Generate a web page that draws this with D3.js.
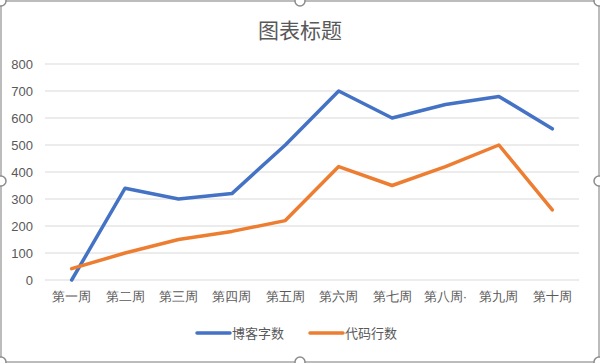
<!DOCTYPE html>
<html>
<head>
<meta charset="utf-8">
<script src="https://cdn.jsdelivr.net/npm/d3@7"></script>
<style>
  body { margin: 0; background: #fff; }
  svg { display: block; font-family: "Liberation Sans", "Noto Sans CJK SC", sans-serif; }
  .axis path, .axis line { display: none; }
  .axis text { fill: #595959; font-size: 13px; }
  .grid line { stroke: #d9d9d9; stroke-width: 1; }
</style>
</head>
<body>
<svg id="chart"></svg>
<script>
var weeks = ['第一周', '第二周', '第三周', '第四周', '第五周', '第六周', '第七周', '第八周·', '第九周', '第十周'];
var blogWords = [0, 340, 300, 320, 500, 700, 600, 650, 680, 560];
var codeLines = [42, 100, 150, 180, 220, 420, 350, 420, 500, 260];
var yTicks = [0, 100, 200, 300, 400, 500, 600, 700, 800];
var seriesNames = ['博客字数', '代码行数'];
var colors = ['#4472C4', '#ED7D31'];

var width = 600, height = 363;
var margin = {top: 64, right: 21, bottom: 83, left: 45};
var innerWidth = width - margin.left - margin.right;
var innerHeight = height - margin.top - margin.bottom;

var svg = d3.select("#chart")
    .attr("width", width)
    .attr("height", height);

// chart frame (selected chart look)
svg.append("rect")
    .attr("x", 1).attr("y", 1)
    .attr("width", width - 2).attr("height", height - 2)
    .attr("fill", "#fff")
    .attr("stroke", "#a6a6a6")
    .attr("stroke-width", 1.5);

svg.append("text")
    .attr("x", width / 2)
    .attr("y", 38)
    .attr("text-anchor", "middle")
    .style("font-family", "'Noto Sans CJK SC', sans-serif")
    .style("font-size", "21px")
    .style("fill", "#595959")
    .text("图表标题");

var g = svg.append("g")
    .attr("transform", "translate(" + margin.left + "," + margin.top + ")");

var xScale = d3.scaleBand()
    .domain(weeks)
    .range([0, innerWidth]);

var yScale = d3.scaleLinear()
    .domain([0, 800])
    .range([innerHeight, 0]);

g.append("g")
    .attr("class", "grid")
    .selectAll("line")
    .data(yTicks).enter()
    .append("line")
      .attr("x1", 0)
      .attr("x2", innerWidth)
      .attr("y1", function(d) { return yScale(d); })
      .attr("y2", function(d) { return yScale(d); });

g.append("g")
    .attr("class", "axis axis-y")
    .attr("transform", "translate(-12,0)")
    .call(d3.axisLeft(yScale).tickValues(yTicks).tickSize(0).tickPadding(0));

g.append("g")
    .attr("class", "axis axis-x")
    .attr("transform", "translate(0," + innerHeight + ")")
    .call(d3.axisBottom(xScale).tickSize(0).tickPadding(12));

var line = d3.line()
    .x(function(d, i) { return xScale(weeks[i]) + xScale.bandwidth() / 2; })
    .y(function(d) { return yScale(d); });

[blogWords, codeLines].forEach(function(values, i) {
  g.append("path")
    .datum(values)
    .attr("fill", "none")
    .attr("stroke", colors[i])
    .attr("stroke-width", 3.5)
    .attr("stroke-linejoin", "round")
    .attr("stroke-linecap", "round")
    .attr("d", line);
});

// legend
var legend = svg.append("g")
    .attr("transform", "translate(0,333)");

var legendX = [197, 310];
seriesNames.forEach(function(name, i) {
  legend.append("line")
    .attr("x1", legendX[i]).attr("x2", legendX[i] + 33)
    .attr("y1", 0).attr("y2", 0)
    .attr("stroke", colors[i])
    .attr("stroke-width", 3.5)
    .attr("stroke-linecap", "round");
  legend.append("text")
    .attr("x", legendX[i] + 35)
    .attr("y", 5)
    .style("font-family", "'Noto Sans CJK SC', sans-serif")
    .style("font-size", "13px")
    .style("fill", "#595959")
    .text(name);
});

// selection handles
var handles = [[1, 1], [300, 1], [599, 1], [1, 181], [599, 181], [1, 362], [300, 362], [599, 362]];
svg.append("g")
  .selectAll("circle")
  .data(handles).enter()
  .append("circle")
    .attr("cx", function(d) { return d[0]; })
    .attr("cy", function(d) { return d[1]; })
    .attr("r", 5)
    .attr("fill", "#fff")
    .attr("stroke", "#8c8c8c")
    .attr("stroke-width", 1.5);
</script>
</body>
</html>
